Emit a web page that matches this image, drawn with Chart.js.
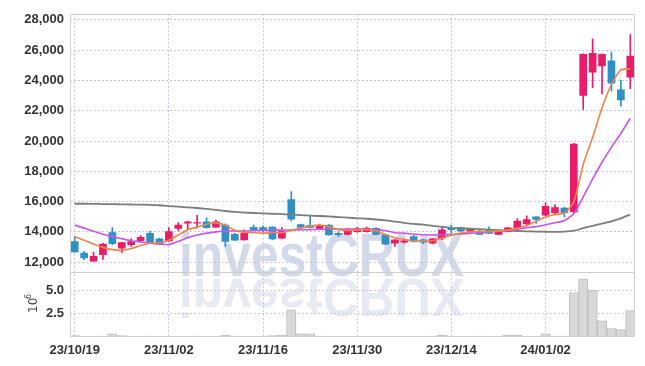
<!DOCTYPE html>
<html>
<head>
<meta charset="utf-8">
<script src="https://cdn.jsdelivr.net/npm/chart.js@4"></script>
<style>
  html, body { margin: 0; padding: 0; background: #fff; }
  #wrap { width: 645px; height: 366px; }
</style>
</head>
<body>
<div id="wrap"><canvas id="chart" width="645" height="366"></canvas></div>
<script>
// daily candles, 23/10/19 .. 24/01/15
const dates = [
  '23/10/19','23/10/20','23/10/23','23/10/24','23/10/25','23/10/26','23/10/27','23/10/30','23/10/31','23/11/01',
  '23/11/02','23/11/03','23/11/06','23/11/07','23/11/08','23/11/09','23/11/10','23/11/13','23/11/14','23/11/15',
  '23/11/16','23/11/17','23/11/20','23/11/21','23/11/22','23/11/23','23/11/24','23/11/27','23/11/28','23/11/29',
  '23/11/30','23/12/01','23/12/04','23/12/05','23/12/06','23/12/07','23/12/08','23/12/11','23/12/12','23/12/13',
  '23/12/14','23/12/15','23/12/18','23/12/19','23/12/20','23/12/21','23/12/22','23/12/26','23/12/27','23/12/28',
  '24/01/02','24/01/03','24/01/04','24/01/05','24/01/08','24/01/09','24/01/10','24/01/11','24/01/12','24/01/15'
];
const opens = [
  13370,12600,12070,12500,13950,12930,13150,13430,13900,13540,
  13410,14230,14580,14570,14670,14320,14450,13840,13475,14300,
  14280,14320,13580,16140,14490,14430,14230,14450,13900,13840,
  14015,14015,14230,13800,13260,13320,13690,13475,13260,13580,
  14230,14280,14060,14060,14125,13840,14015,14230,14520,14990,
  15100,15270,15580,15320,23010,24540,24960,25290,23380,24210
];
const highs = [
  13690,12715,12670,13260,14280,13320,13540,13760,14060,13600,
  14280,14620,14720,15100,14930,14780,14540,13900,14130,14450,
  14400,14340,14280,16660,14520,15100,14520,14480,14000,14260,
  14300,14320,14280,13850,13500,13550,13750,13500,13580,14280,
  14450,14320,14250,14100,14340,14050,14300,14880,15060,15000,
  15920,15810,15620,19850,25750,26750,25760,25880,24030,27020
];
const lows = [
  12650,12175,12050,12180,13150,12650,13040,13400,13240,13150,
  13380,14060,14130,14340,14250,14300,13040,13420,13450,14100,
  14000,13480,13550,14730,14280,14280,14200,13780,13700,13800,
  13960,13980,13800,13150,13040,13250,13330,13230,13200,13480,
  13900,14000,14000,13820,13880,13800,14000,14200,14390,14560,
  15050,15120,14990,15270,22080,23520,23120,23300,22300,23450
];
const closes = [
  12680,12280,12390,13190,13220,13300,13370,13650,13260,13190,
  14015,14450,14670,14620,14280,14670,13370,13450,13905,14130,
  14060,13540,14015,14840,14300,14300,14410,13800,13820,14170,
  14210,14230,13840,13190,13475,13410,13370,13320,13540,14130,
  14150,14060,14170,13840,13905,14015,14275,14710,14820,14820,
  15690,15600,15270,19800,25720,25790,25720,23820,22710,25610
];
// moving averages
const maShort = [
  13690,13450,13200,12980,12830,12780,12900,13100,13250,13280,
  13450,13800,14150,14300,14500,14600,14450,14100,13980,13950,
  13920,13950,13950,14100,14250,14380,14450,14350,14150,14100,
  14130,14150,14080,13820,13620,13500,13420,13400,13420,13600,
  13780,13920,13990,14030,14030,14050,14120,14250,14420,14700,
  14980,15150,15250,15970,18450,20250,22200,23750,24700,24750
];
const maMid = [
  14450,14250,14050,13850,13690,13550,13420,13340,13260,13200,
  13160,13380,13620,13800,13920,14000,14060,14060,14060,14080,
  14110,14120,14120,14130,14140,14150,14170,14190,14190,14190,
  14190,14180,14150,14080,13950,13920,13850,13810,13800,13810,
  13830,13860,13910,13950,13990,14040,14100,14180,14280,14350,
  14470,14600,14760,15200,16300,17500,18600,19600,20500,21500
];
const maLong = [
  15860,15860,15850,15840,15830,15820,15810,15800,15790,15760,
  15700,15670,15620,15580,15520,15460,15380,15320,15280,15250,
  15220,15200,15170,15140,15110,15080,15050,15020,14980,14940,
  14900,14870,14820,14760,14680,14600,14530,14480,14400,14330,
  14270,14240,14210,14180,14150,14120,14090,14060,14040,14020,
  14010,14000,14020,14080,14250,14400,14550,14700,14900,15150
];
// volume in millions
const volumes = [
  0.15,0.05,0.05,0.1,0.35,0.15,0.05,0.05,0.1,0.05,
  0.1,0.05,0.05,0.1,0.05,0.05,0.2,0.1,0.05,0.05,
  0.1,0.15,0.2,2.95,0.35,0.35,0.1,0.08,0.05,0.05,
  0.08,0.05,0.08,0.05,0.05,0.05,0.08,0.05,0.1,0.2,
  0.1,0.05,0.05,0.1,0.05,0.1,0.2,0.2,0.1,0.08,
  0.35,0.1,0.1,4.82,6.3,5.05,1.75,0.9,0.8,2.85
];
const xTickLabels = ['23/10/19','23/11/02','23/11/16','23/11/30','23/12/14','24/01/02'];
const priceTicks = [12000,14000,16000,18000,20000,22000,24000,26000,28000];
const volTicks = [2.5, 5.0];

const UP = '#e81c68', DOWN = '#2f90c6';
const GRID = '#c8c8da';
const FONT = { family: "'Liberation Sans', sans-serif", size: 13, weight: 'bold' };

const candleColors = opens.map((o, i) => closes[i] >= o ? UP : DOWN);

// watermark behind everything
const watermark = {
  id: 'watermark',
  beforeDraw(chart){
    const ctx = chart.ctx;
    ctx.save();
    ctx.font = 'bold 62px "Liberation Sans", sans-serif';
    const w = ctx.measureText('investCRUX').width;
    ctx.translate(179, 276);
    ctx.scale(285 / w, 1);
    ctx.fillStyle = '#d3d9e9';
    ctx.fillText('investCRUX', 0, 0);
    ctx.scale(1, -0.88);
    ctx.translate(0, -3);
    ctx.fillStyle = '#e7eaf2';
    ctx.fillText('investCRUX', 0, 0);
    ctx.restore();
  }
};

// panel frames + volume unit label
const frame = {
  id: 'frame',
  afterDraw(chart){
    const ctx = chart.ctx;
    const a = chart.chartArea;
    const div = chart.scales.y.bottom;
    ctx.save();
    ctx.strokeStyle = '#cfcfcf';
    ctx.lineWidth = 1;
    ctx.beginPath();
    ctx.rect(Math.round(a.left) + 0.5, Math.round(a.top) + 0.5, Math.round(a.right - a.left) - 1, Math.round(a.bottom - a.top) - 1);
    ctx.moveTo(a.left, Math.round(div) + 0.5);
    ctx.lineTo(a.right, Math.round(div) + 0.5);
    ctx.stroke();

    ctx.fillStyle = '#444';
    ctx.translate(34, 313);
    ctx.rotate(-Math.PI / 2);
    ctx.textBaseline = 'middle';
    ctx.font = '12px "DejaVu Sans", sans-serif';
    ctx.fillText('10', 0, 0);
    ctx.font = '8px "DejaVu Sans", sans-serif';
    ctx.fillText('6', 14, -5);
    ctx.restore();
  }
};

new Chart(document.getElementById('chart'), {
  type: 'bar',
  data: {
    labels: dates,
    datasets: [
      {
        type: 'line', data: maShort, yAxisID: 'y', borderColor: '#ef8448',
        borderWidth: 1.6, pointRadius: 0, tension: 0.2, order: 1
      },
      {
        type: 'line', data: maMid, yAxisID: 'y', borderColor: '#c656e8',
        borderWidth: 1.6, pointRadius: 0, tension: 0.2, order: 1
      },
      {
        type: 'line', data: maLong, yAxisID: 'y', borderColor: '#7d7d7d',
        borderWidth: 1.8, pointRadius: 0, tension: 0.2, order: 1
      },
      {
        // wicks
        data: lows.map((l, i) => [l, highs[i]]), yAxisID: 'y',
        backgroundColor: candleColors, barThickness: 1, grouped: false, order: 3
      },
      {
        // bodies
        data: opens.map((o, i) => [o, closes[i]]), yAxisID: 'y',
        backgroundColor: candleColors, barThickness: 7, grouped: false, order: 2
      },
      {
        data: volumes, yAxisID: 'yv',
        backgroundColor: '#d8d8d8', borderColor: '#bdbdbd', borderWidth: 1,
        barPercentage: 1, categoryPercentage: 1, grouped: false, order: 4
      }
    ]
  },
  options: {
    responsive: false,
    animation: false,
    devicePixelRatio: 1,
    layout: { padding: { left: 0, right: 10, top: 9, bottom: 0 } },
    plugins: { legend: { display: false }, tooltip: { enabled: false } },
    scales: {
      x: {
        type: 'category',
        offset: true,
        grid: { offset: false, color: GRID, drawTicks: false },
        border: { display: false, dash: [2, 2] },
        ticks: { autoSkip: false, maxRotation: 0, padding: 6, color: '#333', font: FONT },
        afterBuildTicks: s => { s.ticks = s.ticks.filter(t => xTickLabels.includes(dates[t.value])); },
        afterFit: s => { s.height = 29; }
      },
      y: {
        position: 'left', stack: 'p', stackWeight: 4, weight: 2,
        min: 11330, max: 28400,
        grid: { color: GRID, drawTicks: false },
        border: { display: false, dash: [2, 2] },
        ticks: { autoSkip: false, padding: 6, color: '#333', font: FONT, callback: v => v.toLocaleString('en-US') },
        afterBuildTicks: s => { s.ticks = priceTicks.map(v => ({ value: v })); },
        afterFit: s => { s.width = 70; }
      },
      yv: {
        position: 'left', stack: 'p', stackWeight: 1, weight: 1,
        min: 0, max: 7.0,
        grid: { color: GRID, drawTicks: false },
        border: { display: false, dash: [2, 2] },
        ticks: { autoSkip: false, padding: 6, color: '#333', font: FONT, callback: v => Number(v).toFixed(1) },
        afterBuildTicks: s => { s.ticks = volTicks.map(v => ({ value: v })); },
        afterFit: s => { s.width = 70; }
      }
    }
  },
  plugins: [watermark, frame]
});
</script>
</body>
</html>
